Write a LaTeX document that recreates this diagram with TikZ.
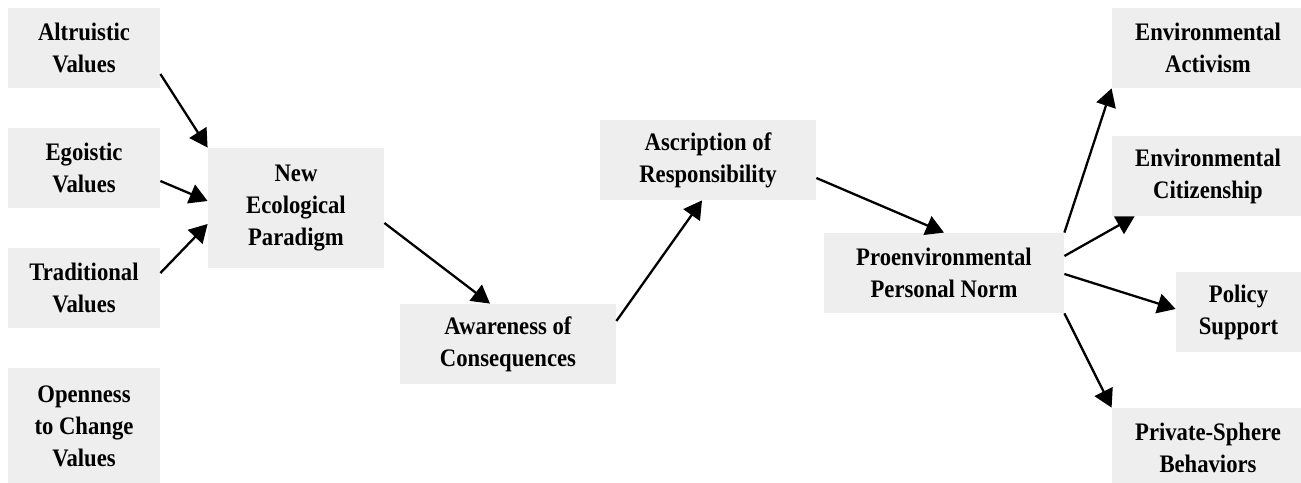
\documentclass[tikz,border=0pt]{standalone}
\usepackage{fontspec}
\setmainfont{Liberation Serif}[FakeStretch=0.9]
\usetikzlibrary{arrows.meta}
\definecolor{boxgray}{HTML}{EEEEEE}
\tikzset{
	varbox/.style={fill=boxgray, inner sep=0pt, align=center, font=\fontsize{12.6}{16}\selectfont\bfseries},
	link/.style={line width=1.15pt, -{Triangle[length=9pt, width=10pt]}}
}

\begin{document}
\begin{tikzpicture}[x=0.5pt, y=-0.5pt]
		%%%%% START %%%%%
		\useasboundingbox (0, 0) rectangle (1301, 482);
		
		% values
		\node[varbox, minimum width=76pt, minimum height=40pt] (altru) at (84, 48) {Altruistic\\Values};
		\node[varbox, minimum width=76pt, minimum height=40pt] (ego) at (84, 168) {Egoistic\\Values};
		\node[varbox, minimum width=76pt, minimum height=40pt] (trad) at (84, 288) {Traditional\\Values};
		\node[varbox, minimum width=76pt, minimum height=58pt] (open) at (84, 426) {Openness\\to Change\\Values};
		
		% chain
		\node[varbox, minimum width=88pt, minimum height=60pt] (nep) at (296, 208) {New\\Ecological\\Paradigm};
		\node[varbox, minimum width=108pt, minimum height=40pt] (aware) at (508, 344) {Awareness of\\Consequences};
		\node[varbox, minimum width=108pt, minimum height=40pt] (ascr) at (708, 160) {Ascription of\\Responsibility};
		\node[varbox, minimum width=120pt, minimum height=40pt] (norm) at (944, 273) {Proenvironmental\\Personal Norm};
		
		% behaviours
		\node[varbox, minimum width=96pt, minimum height=40pt] (activ) at (1208, 48) {Environmental\\Activism};
		\node[varbox, minimum width=96pt, minimum height=40pt] (citiz) at (1208, 176) {Environmental\\Citizenship};
		\node[varbox, minimum width=62.5pt, minimum height=40pt] (policy) at (1238.5, 312) {Policy\\Support};
		\node[varbox, minimum width=96pt, minimum height=40pt] (priv) at (1208, 448) {Private-Sphere\\Behaviors};
		
		\draw[link] ([yshift=-13pt]altru.east) -- (nep.north west);
		\draw[link] ([yshift=-6.5pt]ego.east) -- ([yshift=3.5pt]nep.west);
		\draw[link] ([yshift=7.5pt]trad.east) -- ([yshift=-8pt]nep.west);
		\draw[link] ([yshift=-7.5pt]nep.east) -- ([xshift=-9pt]aware.north);
		\draw[link] ([yshift=11.5pt]aware.east) -- ([xshift=-3pt]ascr.south);
		\draw[link] ([yshift=-9pt]ascr.east) -- (norm.north);
		\draw[link] (norm.north east) -- (activ.south west);
		\draw[link] ([yshift=8.5pt]norm.east) -- ([xshift=11.5pt]citiz.south west);
		\draw[link] ([yshift=-0.5pt]norm.east) -- ([yshift=1.5pt]policy.west);
		\draw[link] (norm.south east) -- (priv.north west);
		%%%%% END %%%%%
	\end{tikzpicture}
\end{document}
